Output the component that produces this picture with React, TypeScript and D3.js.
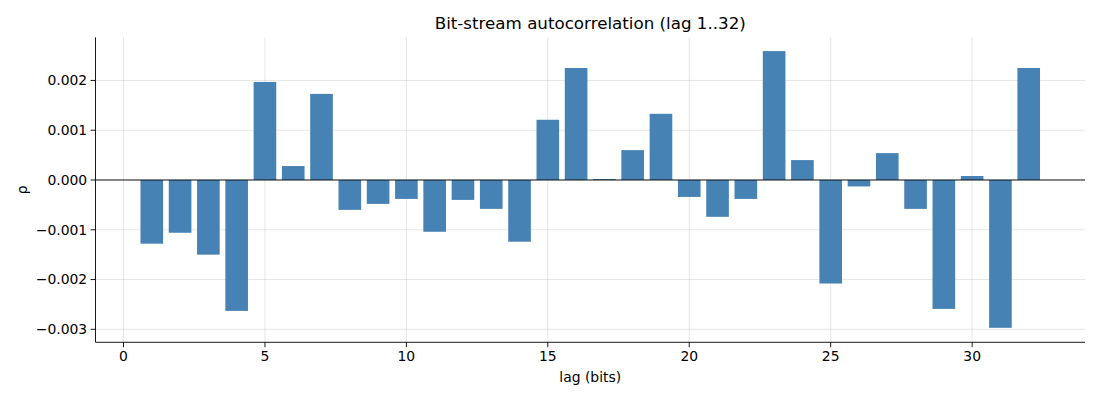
import React from "react";
import * as d3 from "d3";

// lag 1..32 autocorrelation values
const lags = d3.range(1, 33);
const rho = [
  -0.00128, -0.00106, -0.0015, -0.00263, 0.00197, 0.00028, 0.00173, -0.0006,
  -0.00048, -0.00038, -0.00104, -0.0004, -0.00058, -0.00124, 0.00121, 0.00225,
  0.00002, 0.0006, 0.00133, -0.00034, -0.00074, -0.00038, 0.00259, 0.0004,
  -0.00208, -0.00013, 0.00054, -0.00058, -0.00259, 0.00008, -0.00297, 0.00225,
];
const xTicks = [0, 5, 10, 15, 20, 25, 30];
const yTicks = [-0.003, -0.002, -0.001, 0, 0.001, 0.002];

const W = 1100;
const H = 400;
const margin = { top: 37.3, right: 15, bottom: 57.7, left: 95.5 };
const font = "DejaVu Sans, sans-serif";

const App: React.FC = () => {
  const x = d3
    .scaleLinear()
    .domain([-0.99, 33.99])
    .range([margin.left, W - margin.right]);
  const y = d3
    .scaleLinear()
    .domain([-0.003261, 0.002867])
    .range([H - margin.bottom, margin.top]);

  const barW = 0.8;
  const fmt = (v: number) => (v < 0 ? "\u2212" : "") + Math.abs(v).toFixed(3);

  return (
    <svg
      width={W}
      height={H}
      style={{ position: "absolute", left: 0, top: 0, background: "#fff" }}
      fontFamily={font}
    >
      {/* grid */}
      {xTicks.map((t) => (
        <line
          key={"gx" + t}
          x1={x(t)}
          x2={x(t)}
          y1={margin.top}
          y2={H - margin.bottom}
          stroke="#b0b0b0"
          strokeOpacity={0.4}
          strokeWidth={0.8}
        />
      ))}
      {yTicks.map((t) => (
        <line
          key={"gy" + t}
          x1={margin.left}
          x2={W - margin.right}
          y1={y(t)}
          y2={y(t)}
          stroke="#b0b0b0"
          strokeOpacity={0.4}
          strokeWidth={0.8}
        />
      ))}

      {/* bars */}
      {lags.map((l, i) => (
        <rect
          key={l}
          x={x(l - barW / 2)}
          width={x(l + barW / 2) - x(l - barW / 2)}
          y={y(Math.max(0, rho[i]))}
          height={Math.abs(y(rho[i]) - y(0))}
          fill="steelblue"
        />
      ))}

      {/* zero line */}
      <line
        x1={margin.left}
        x2={W - margin.right}
        y1={y(0)}
        y2={y(0)}
        stroke="#000"
        strokeWidth={0.9}
      />

      {/* spines */}
      <line
        x1={margin.left}
        x2={margin.left}
        y1={margin.top}
        y2={H - margin.bottom}
        stroke="#000"
        strokeWidth={0.9}
      />
      <line
        x1={margin.left}
        x2={W - margin.right}
        y1={H - margin.bottom}
        y2={H - margin.bottom}
        stroke="#000"
        strokeWidth={0.9}
      />

      {/* x ticks */}
      {xTicks.map((t) => (
        <g key={"xt" + t} transform={`translate(${x(t)},${H - margin.bottom})`}>
          <line y2={4.9} stroke="#000" strokeWidth={0.9} />
          <text y={18.8} textAnchor="middle" fontSize={13.9} fill="#000">
            {t}
          </text>
        </g>
      ))}

      {/* y ticks */}
      {yTicks.map((t) => (
        <g key={"yt" + t} transform={`translate(${margin.left},${y(t)})`}>
          <line x2={-4.9} stroke="#000" strokeWidth={0.9} />
          <text
            x={-8.3}
            dy="0.35em"
            textAnchor="end"
            fontSize={13.9}
            fill="#000"
          >
            {fmt(t)}
          </text>
        </g>
      ))}

      {/* labels */}
      <text
        x={(margin.left + W - margin.right) / 2}
        y={29}
        textAnchor="middle"
        fontSize={16.7}
        fill="#000"
      >
        Bit-stream autocorrelation (lag 1..32)
      </text>
      <text
        x={(margin.left + W - margin.right) / 2}
        y={382}
        textAnchor="middle"
        fontSize={13.9}
        fill="#000"
      >
        lag (bits)
      </text>
      <text
        transform={`translate(27,${(margin.top + H - margin.bottom) / 2}) rotate(-90)`}
        textAnchor="middle"
        fontSize={13.9}
        fill="#000"
      >
        ρ
      </text>
    </svg>
  );
};

export default App;
